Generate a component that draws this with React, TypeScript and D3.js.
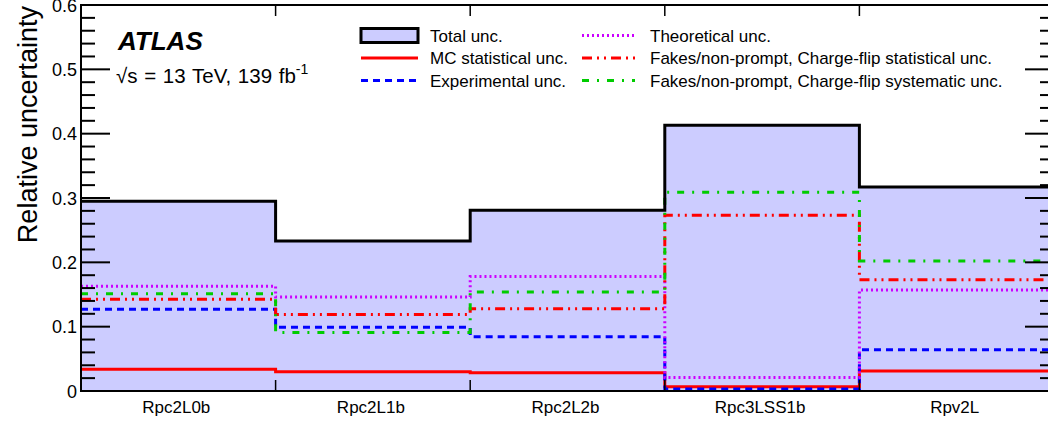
import React from "react";
import * as d3 from "d3";

const categories = ["Rpc2L0b", "Rpc2L1b", "Rpc2L2b", "Rpc3LSS1b", "Rpv2L"];
const totalUnc = [0.295, 0.233, 0.281, 0.413, 0.317];
const mcStat = [0.034, 0.030, 0.0285, 0.0067, 0.031];
const expUnc = [0.127, 0.099, 0.0845, 0.003, 0.064];
const theoUnc = [0.163, 0.146, 0.178, 0.021, 0.157];
const fakesStat = [0.1425, 0.119, 0.128, 0.273, 0.173];
const fakesSyst = [0.151, 0.091, 0.154, 0.309, 0.202];
const yTicksMajor = [0, 0.1, 0.2, 0.3, 0.4, 0.5, 0.6];

const W = 1048, H = 423;
const L = 81, R = 1054, T = 5, B = 391;
const FONT = "Liberation Sans, Arial, sans-serif";

export default function App() {
  const x = d3.scaleBand<string>().domain(categories).range([L, R]).padding(0);
  const y = d3.scaleLinear().domain([0, 0.6]).range([B, T]);

  const pts = (vals: number[]) => {
    const p: [number, number][] = [];
    categories.forEach((c, i) => {
      const x0 = x(c)!;
      p.push([x0, y(vals[i])]);
      p.push([x0 + x.bandwidth(), y(vals[i])]);
    });
    return p;
  };
  const line = d3.line();
  const area = d3.area<[number, number]>().x((d) => d[0]).y0(y(0)).y1((d) => d[1]);

  const series = [
    { vals: mcStat, color: "#ff0000", dash: "" },
    { vals: expUnc, color: "#0000ff", dash: "7,5" },
    { vals: theoUnc, color: "#cc00ff", dash: "2,3" },
    { vals: fakesStat, color: "#ff0000", dash: "10,5,2,5,2,5" },
    { vals: fakesSyst, color: "#00cc00", dash: "7,8,2,8" },
  ];

  const minorTicks = d3.range(0, 0.6001, 0.02).filter((v) => Math.abs(Math.round(v * 10) - v * 10) > 1e-6);
  const boundaries = categories.slice(1).map((c) => x(c)!);

  const legend = [
    { col: 0, row: 0, label: "Total unc.", type: "box" },
    { col: 0, row: 1, label: "MC statistical unc.", color: "#ff0000", dash: "" },
    { col: 0, row: 2, label: "Experimental unc.", color: "#0000ff", dash: "7,5" },
    { col: 1, row: 0, label: "Theoretical unc.", color: "#cc00ff", dash: "2,3" },
    { col: 1, row: 1, label: "Fakes/non-prompt, Charge-flip statistical unc.", color: "#ff0000", dash: "10,5,2,5,2,5" },
    { col: 1, row: 2, label: "Fakes/non-prompt, Charge-flip systematic unc.", color: "#00cc00", dash: "7,8,2,8" },
  ];
  const legCols = [{ s0: 361, s1: 418, t: 430 }, { s0: 582, s1: 635, t: 650 }];
  const legRows = [35.5, 58, 80.5];

  return (
    <svg width={W} height={H} style={{ position: "absolute", left: 0, top: 0 }} fontFamily={FONT}>
      <rect x={0} y={0} width={W} height={H} fill="#fff" />
      <path d={area(pts(totalUnc)) || ""} fill="#ccccff" />
      {series.map((s, i) => (
        <path key={i} d={line(pts(s.vals)) || ""} fill="none" stroke={s.color} strokeWidth={3} strokeDasharray={s.dash || undefined} />
      ))}
      <path d={line(pts(totalUnc)) || ""} fill="none" stroke="#000" strokeWidth={3} />

      {/* frame */}
      <rect x={L} y={T} width={R - L} height={B - T} fill="none" stroke="#000" strokeWidth={2} />
      {yTicksMajor.map((v) => (
        <g key={"M" + v}>
          <line x1={L} x2={L + 29} y1={y(v)} y2={y(v)} stroke="#000" strokeWidth={2} />
          <line x1={R} x2={R - 29} y1={y(v)} y2={y(v)} stroke="#000" strokeWidth={2} />
          <text x={77} y={y(v) + 6.5} textAnchor="end" fontSize={18}>{v === 0 ? "0" : d3.format(".1f")(v)}</text>
        </g>
      ))}
      {minorTicks.map((v) => (
        <g key={"m" + v}>
          <line x1={L} x2={L + 14} y1={y(v)} y2={y(v)} stroke="#000" strokeWidth={2} />
          <line x1={R} x2={R - 14} y1={y(v)} y2={y(v)} stroke="#000" strokeWidth={2} />
        </g>
      ))}
      {boundaries.map((bx, i) => (
        <g key={"b" + i}>
          <line x1={bx} x2={bx} y1={B} y2={B - 11} stroke="#000" strokeWidth={1.5} />
          <line x1={bx} x2={bx} y1={T} y2={T + 11} stroke="#000" strokeWidth={1.5} />
        </g>
      ))}
      {categories.map((c) => (
        <text key={c} x={x(c)! + x.bandwidth() / 2 - 2} y={413} textAnchor="middle" fontSize={17}>{c}</text>
      ))}
      <text transform={`translate(37,6) rotate(-90)`} textAnchor="end" fontSize={27}>Relative uncertainty</text>

      <text x={118} y={50} fontSize={26} fontWeight="bold" fontStyle="italic">ATLAS</text>
      <text x={116} y={83} fontSize={20.5} wordSpacing={1}>
        √s = 13 TeV, 139 fb<tspan dy={-9} fontSize={14}>-1</tspan>
      </text>

      {legend.map((l, i) => {
        const c = legCols[l.col];
        const cy = legRows[l.row];
        return (
          <g key={i}>
            {l.type === "box" ? (
              <rect x={c.s0} y={cy - 7} width={c.s1 - c.s0} height={14} fill="#ccccff" stroke="#000" strokeWidth={3} />
            ) : (
              <line x1={c.s0} x2={c.s1} y1={cy} y2={cy} stroke={l.color} strokeWidth={3} strokeDasharray={l.dash || undefined} />
            )}
            <text x={c.t} y={cy + 6} fontSize={17}>{l.label}</text>
          </g>
        );
      })}
    </svg>
  );
}
